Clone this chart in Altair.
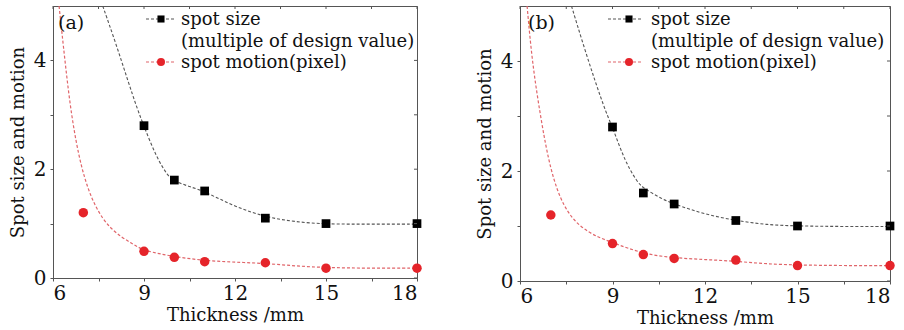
import altair as alt
import pandas as pd

FONT = "DejaVu Serif"
TEXT = "#111111"
AXIS = "#555555"
RED = "#e5242a"
RED_FIT = "#e0656a"
BLACK_FIT = "#555555"

# Measured samples (thickness in mm)
size_x = [9, 10, 11, 13, 15, 18]
motion_x = [7, 9, 10, 11, 13, 15, 18]

size_a = [2.8, 1.8, 1.6, 1.1, 1.0, 1.0]
motion_a = [1.2, 0.49, 0.38, 0.30, 0.28, 0.18, 0.18]
size_b = [2.8, 1.6, 1.4, 1.1, 1.0, 1.0]
motion_b = [1.2, 0.68, 0.48, 0.41, 0.38, 0.28, 0.28]

# Fitted trend curves
fit_size_a_x = [7.64, 8.08, 8.46, 8.79, 9.0, 9.4, 9.8, 10.0, 10.5, 11.0, 12.0, 13.0, 14.0, 15.0, 16.5, 18.0]
fit_size_a_y = [5.0, 4.3, 3.64, 3.09, 2.79, 2.23, 1.86, 1.78, 1.68, 1.59, 1.31, 1.12, 1.03, 0.99, 0.99, 0.99]
fit_motion_a_x = [6.2, 6.39, 6.6, 6.93, 7.37, 7.92, 8.64, 9.0, 10.0, 11.0, 12.0, 13.0, 14.0, 15.0, 16.5, 18.0]
fit_motion_a_y = [5.0, 4.01, 2.99, 1.99, 1.30, 0.87, 0.62, 0.50, 0.39, 0.32, 0.29, 0.27, 0.22, 0.19, 0.18, 0.18]

fit_size_b_x = [7.67, 8.05, 8.43, 8.81, 9.0, 9.4, 9.8, 10.0, 10.6, 11.0, 12.0, 13.0, 14.0, 15.0, 16.5, 18.0]
fit_size_b_y = [5.0, 4.3, 3.64, 3.03, 2.80, 2.18, 1.80, 1.69, 1.49, 1.40, 1.21, 1.10, 1.02, 1.0, 0.99, 0.99]
fit_motion_b_x = [6.23, 6.39, 6.66, 6.98, 7.41, 7.96, 8.55, 9.0, 10.0, 11.0, 12.0, 13.0, 14.0, 15.0, 16.5, 18.0]
fit_motion_b_y = [5.0, 4.0, 3.0, 2.01, 1.33, 0.97, 0.79, 0.70, 0.49, 0.42, 0.39, 0.36, 0.31, 0.29, 0.28, 0.28]

# Axis ticks and legend text
x_ticks = [6, 7.5, 9, 10.5, 12, 13.5, 15, 16.5, 18]
y_ticks = [0, 1, 2, 3, 4]
legend_labels = ["spot size", "(multiple of design value)", "spot motion(pixel)"]
panel_tags = ["(a)", "(b)"]

X_SCALE = alt.Scale(domain=[6, 18], nice=False, zero=False)
Y_SCALE = alt.Scale(domain=[0, 5], nice=False, zero=True)


def x_enc():
    return alt.X(
        "t:Q", scale=X_SCALE,
        axis=alt.Axis(values=x_ticks, labelExpr="datum.value % 3 == 0 ? datum.label : ''",
                      title="Thickness /mm", grid=False, tickSize=3, labelPadding=2,
                      titlePadding=3))


def y_enc():
    return alt.Y(
        "v:Q", scale=Y_SCALE,
        axis=alt.Axis(values=y_ticks, labelExpr="datum.value % 2 == 0 ? datum.label : ''",
                      title="Spot size and motion", grid=False, tickSize=3, labelPadding=4,
                      titlePadding=6))


def panel(tag, s_y, m_y, fsx, fsy, fmx, fmy, w, h, lg):
    size_df = pd.DataFrame({"t": size_x, "v": s_y})
    motion_df = pd.DataFrame({"t": motion_x, "v": m_y})
    fit_s = pd.DataFrame({"t": fsx, "v": fsy})
    fit_m = pd.DataFrame({"t": fmx, "v": fmy})

    fit_s_line = alt.Chart(fit_s).mark_line(
        color=BLACK_FIT, strokeDash=[3, 2], strokeWidth=1.1, interpolate="basis", clip=True
    ).encode(x=x_enc(), y=y_enc())
    fit_m_line = alt.Chart(fit_m).mark_line(
        color=RED_FIT, strokeDash=[3, 2], strokeWidth=1.2, interpolate="basis", clip=True
    ).encode(x=x_enc(), y=y_enc())
    squares = alt.Chart(size_df).mark_point(
        shape="square", filled=True, color="black", size=76, opacity=1
    ).encode(x=x_enc(), y=y_enc())
    dots = alt.Chart(motion_df).mark_point(
        shape="circle", filled=True, color=RED, size=90, opacity=1
    ).encode(x=x_enc(), y=y_enc())

    # mirrored inner ticks along the top and right frame
    top_ticks = alt.Chart(pd.DataFrame({"t": x_ticks})).mark_rule(
        color=AXIS, strokeWidth=1).encode(x=x_enc(), y=alt.value(0), y2=alt.value(3))
    right_ticks = alt.Chart(pd.DataFrame({"v": y_ticks})).mark_rule(
        color=AXIS, strokeWidth=1).encode(y=y_enc(), x=alt.value(w - 3), x2=alt.value(w))

    tag_text = alt.Chart(pd.DataFrame({"label": [tag]})).mark_text(
        font=FONT, fontSize=19, color=TEXT, align="left", baseline="alphabetic"
    ).encode(x=alt.value(lg["tag_x"]), y=alt.value(23), text="label:N")

    # legend block
    lx0, lx1, lxm, ltx = lg["x0"], lg["x1"], lg["xm"], lg["tx"]
    row_y = [13, 34.5, 56]
    layers = []
    for i, (lab, yy) in enumerate(zip(legend_labels, row_y)):
        d = pd.DataFrame({"label": [lab]})
        layers.append(alt.Chart(d).mark_text(
            font=FONT, fontSize=18, color=TEXT, align="left", baseline="middle", dy=1
        ).encode(x=alt.value(ltx), y=alt.value(yy), text="label:N"))
        if i == 1:
            continue
        col = BLACK_FIT if i == 0 else RED_FIT
        layers.append(alt.Chart(d).mark_rule(color=col, strokeDash=[3, 2], strokeWidth=1.1).encode(
            x=alt.value(lx0), x2=alt.value(lx1), y=alt.value(yy)))
        if i == 0:
            layers.append(alt.Chart(d).mark_point(
                shape="square", filled=True, color="black", size=50, opacity=1
            ).encode(x=alt.value(lxm), y=alt.value(yy)))
        else:
            layers.append(alt.Chart(d).mark_point(
                shape="circle", filled=True, color=RED, size=64, opacity=1
            ).encode(x=alt.value(lxm), y=alt.value(yy)))

    return alt.layer(
        fit_s_line, fit_m_line, squares, dots, top_ticks, right_ticks, tag_text, *layers
    ).properties(width=w, height=h)


left = panel(panel_tags[0], size_a, motion_a, fit_size_a_x, fit_size_a_y,
             fit_motion_a_x, fit_motion_a_y, 364, 272,
             {"x0": 93, "x1": 123, "xm": 108, "tx": 128, "tag_x": 5})
right = panel(panel_tags[1], size_b, motion_b, fit_size_b_x, fit_size_b_y,
              fit_motion_b_x, fit_motion_b_y, 370, 275,
              {"x0": 88, "x1": 121, "xm": 109, "tx": 131, "tag_x": 8})

chart = alt.hconcat(left, right, spacing=52).properties(
    padding={"left": 8, "top": 5, "right": 0, "bottom": 0},
    background="white",
).configure_view(
    stroke=AXIS, strokeWidth=1
).configure_axis(
    domainColor=AXIS, tickColor=AXIS, labelFont=FONT, labelFontSize=20, labelColor=TEXT,
    titleFont=FONT, titleFontSize=18, titleFontWeight="normal", titleColor=TEXT,
)

chart.save("out.html", embed_options={"renderer": "svg", "actions": False})
